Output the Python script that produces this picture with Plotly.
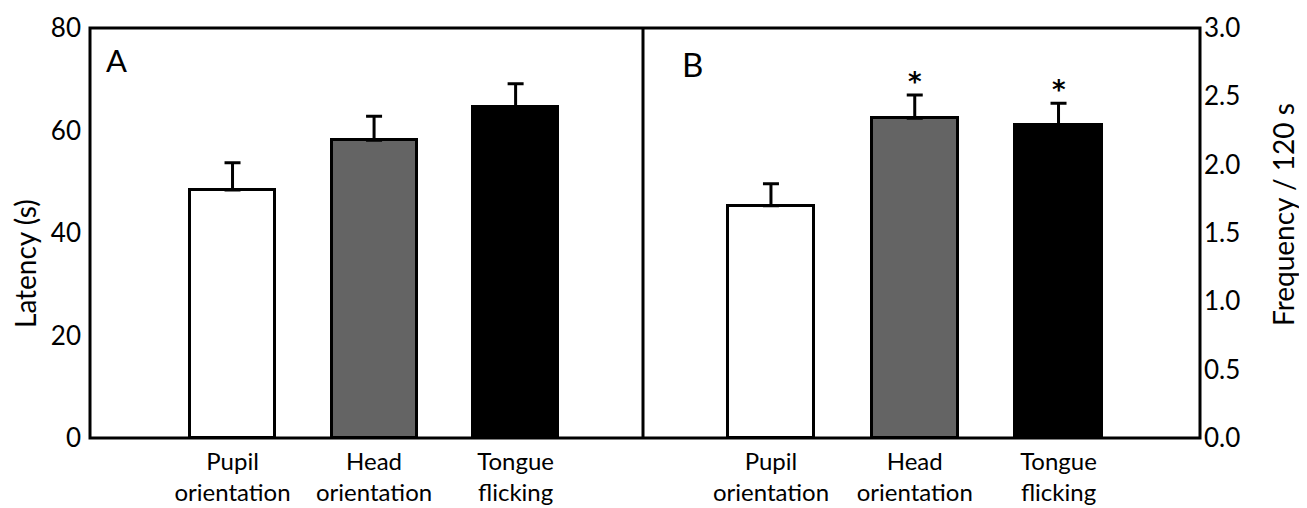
import plotly.graph_objects as go

categories = ["Pupil<br>orientation", "Head<br>orientation", "Tongue<br>flicking"]
latency = [48.4, 58.1, 64.6]
latency_err = [5.3, 4.7, 4.5]
frequency = [1.70, 2.34, 2.29]
frequency_err = [0.16, 0.17, 0.16]
significant = ["", "*", "*"]
colors = ["#ffffff", "#646464", "#000000"]

FONT = "Lato"
W, H = 1307, 508
OFF = 8  # page body margin
L, R, T, B = 90, 1200, 28, 438
split = (643 - L) / (R - L)

def px_x(x):
    return (x - L) / (R - L)

def px_y(y):
    return 1 - (y - T) / (B - T)

fig = go.Figure()
xs = [0, 1, 2]
fig.add_trace(go.Bar(
    x=xs, y=latency, width=0.6, marker=dict(color=colors, line=dict(color="black", width=3)),
    error_y=dict(type="data", symmetric=False, array=latency_err, arrayminus=[0, 0, 0],
                 color="black", thickness=3, width=8),
    xaxis="x", yaxis="y", showlegend=False))
fig.add_trace(go.Bar(
    x=xs, y=frequency, width=0.6, marker=dict(color=colors, line=dict(color="black", width=3)),
    error_y=dict(type="data", symmetric=False, array=frequency_err, arrayminus=[0, 0, 0],
                 color="black", thickness=3, width=8),
    xaxis="x2", yaxis="y2", showlegend=False))

for i, s in enumerate(significant):
    if s:
        fig.add_annotation(x=xs[i], y=frequency[i] + frequency_err[i], xref="x2", yref="y2",
                           text=s, showarrow=False, yanchor="middle", yshift=13,
                           font=dict(family="DejaVu Sans", size=26, color="black", weight="bold"))

fig.update_layout(
    width=W - OFF, height=H - OFF,
    margin=dict(l=L - OFF, r=W - R, t=T - OFF, b=H - B, pad=0, autoexpand=False),
    plot_bgcolor="white", paper_bgcolor="white",
    bargap=0,
    font=dict(family=FONT, color="black"),
    xaxis=dict(domain=[0, split], range=[-1.007, 2.90], tickvals=xs, ticktext=categories,
               showgrid=False, zeroline=False, showline=False, ticks="", automargin=False,
               tickfont=dict(family=FONT, size=24), ticklabelstandoff=7, anchor="y"),
    xaxis2=dict(domain=[split, 1], range=[-0.89, 2.984], tickvals=xs, ticktext=categories,
                showgrid=False, zeroline=False, showline=False, ticks="", automargin=False,
                tickfont=dict(family=FONT, size=24), ticklabelstandoff=7, anchor="y2"),
    yaxis=dict(range=[0, 80], tickvals=[0, 20, 40, 60, 80], showgrid=False, zeroline=False,
               showline=False, ticks="", automargin=False, tickfont=dict(family=FONT, size=26),
               ticklabelstandoff=8, anchor="x"),
    yaxis2=dict(range=[0, 3], tickvals=[0, 0.5, 1, 1.5, 2, 2.5, 3], tickformat=".1f",
                side="right", showgrid=False, zeroline=False, showline=False, ticks="",
                automargin=False,
                tickfont=dict(family=FONT, size=26), ticklabelstandoff=3, anchor="x2"),
)

# frame and divider
fig.add_shape(type="rect", xref="paper", yref="paper", x0=0, x1=1, y0=0, y1=1,
              line=dict(color="black", width=3), layer="above")
fig.add_shape(type="line", xref="paper", yref="paper", x0=split, x1=split, y0=0, y1=1,
              line=dict(color="black", width=3), layer="above")

fig.add_annotation(text="A", xref="paper", yref="paper", x=px_x(104), y=px_y(60),
                   xanchor="left", yanchor="middle", showarrow=False,
                   font=dict(family=FONT, size=31))
fig.add_annotation(text="B", xref="paper", yref="paper", x=px_x(680), y=px_y(64),
                   xanchor="left", yanchor="middle", showarrow=False,
                   font=dict(family=FONT, size=33))
fig.add_annotation(text="Latency (s)", xref="paper", yref="paper", x=px_x(25), y=px_y(264),
                   textangle=-90, showarrow=False, xanchor="center", yanchor="middle",
                   font=dict(family=FONT, size=28))
fig.add_annotation(text="Frequency / 120 s", xref="paper", yref="paper", x=px_x(1283), y=px_y(215),
                   textangle=-90, showarrow=False, xanchor="center", yanchor="middle",
                   font=dict(family=FONT, size=28))

fig.write_html("out.html")
